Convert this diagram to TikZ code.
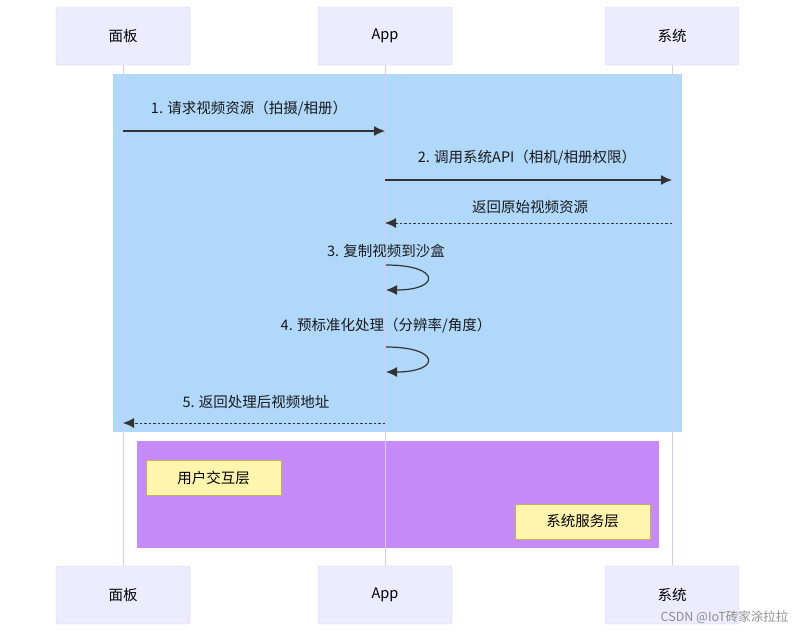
\documentclass[tikz,border=0pt]{standalone}
\usepackage{fontspec}
\setmainfont{Noto Sans CJK SC}
\usetikzlibrary{arrows.meta,positioning}
\definecolor{actorfill}{RGB}{236,236,255}
\definecolor{actorline}{RGB}{214,202,242}
\definecolor{boxblue}{RGB}{176,216,251}
\definecolor{boxpurple}{RGB}{199,138,249}
\definecolor{notefill}{RGB}{255,245,173}
\definecolor{noteline}{RGB}{190,180,80}
\definecolor{msgline}{RGB}{51,51,51}

\begin{document}
\begin{tikzpicture}[x=1pt,y=-1pt,
        actor/.style={rectangle,rounded corners=2pt,draw=actorline,fill=actorfill,
          minimum width=134pt,minimum height=58pt,font=\fontsize{14.5}{17}\selectfont},
        life/.style={draw=actorline,line width=1pt},
        note/.style={rectangle,draw=noteline,fill=notefill,
          minimum width=135pt,minimum height=35pt,font=\fontsize{14.5}{17}\selectfont},
        msg/.style={font=\fontsize{14.5}{17}\selectfont,text=black!90,inner sep=1pt},
        arrow/.style={-{Latex[length=11pt,width=10pt]},draw=msgline,line width=1.2pt},
        reply/.style={arrow,line width=1pt,dash pattern=on 2.5pt off 2pt}]
        \useasboundingbox (0,0) rectangle (796,632);
        % background boxes
        \fill[boxblue] (113,74) rectangle (682,432);
        \fill[boxpurple] (137,441) rectangle (659,548);
        % actors
        \node[actor] (pt) at (123,36) {面板};
        \node[actor] (at) at (385,36) {App};
        \node[actor] (st) at (672,36) {系统};
        \node[actor] (pb) at (123,595) {面板};
        \node[actor] (ab) at (385,595) {App};
        \node[actor] (sb) at (672,595) {系统};
        \draw[life] (pt) -- (pb);
        \draw[life] (at) -- (ab);
        \draw[life] (st) -- (sb);
        % message points
        \coordinate (p1) at (123,131);
        \coordinate (a1) at (385,131);
        \coordinate (a2) at (385,180);
        \coordinate (s2) at (672,180);
        \coordinate (s3) at (672,223);
        \coordinate (a3) at (385,223);
        \coordinate (a4) at (386,265);
        \coordinate (a5) at (386,290);
        \coordinate (a6) at (386,347);
        \coordinate (a7) at (386,372);
        \coordinate (a8) at (385,423);
        \coordinate (p8) at (123,423);
        % messages
        \node[msg] (l1) at (249,109) {1. 请求视频资源（拍摄/相册）};
        \draw[arrow] (p1) -- (a1);
        \node[msg] (l2) at (527,158) {2. 调用系统API（相机/相册权限）};
        \draw[arrow] (a2) -- (s2);
        \node[msg] (l3) at (530,207) {返回原始视频资源};
        \draw[reply] (s3) -- (a3);
        \node[msg] (l4) at (386,251) {3. 复制视频到沙盒};
        \draw[arrow] (a4) .. controls +(55,0) and +(55,0) .. (a5);
        \node[msg] (l5) at (386,326) {4. 预标准化处理（分辨率/角度）};
        \draw[arrow] (a6) .. controls +(55,0) and +(55,0) .. (a7);
        \node[msg] (l6) at (256,402) {5. 返回处理后视频地址};
        \draw[reply] (a8) -- (p8);
        % notes
        \node[note] (n1) at (213.5,477.5) {用户交互层};
        \node[note] (n2) at (582.5,521.5) {系统服务层};
        \node[font=\fontsize{12.5}{14}\selectfont,text=black!45,anchor=east] (wm) at (792,617) {CSDN @IoT砖家涂拉拉};
      \end{tikzpicture}
\end{document}
